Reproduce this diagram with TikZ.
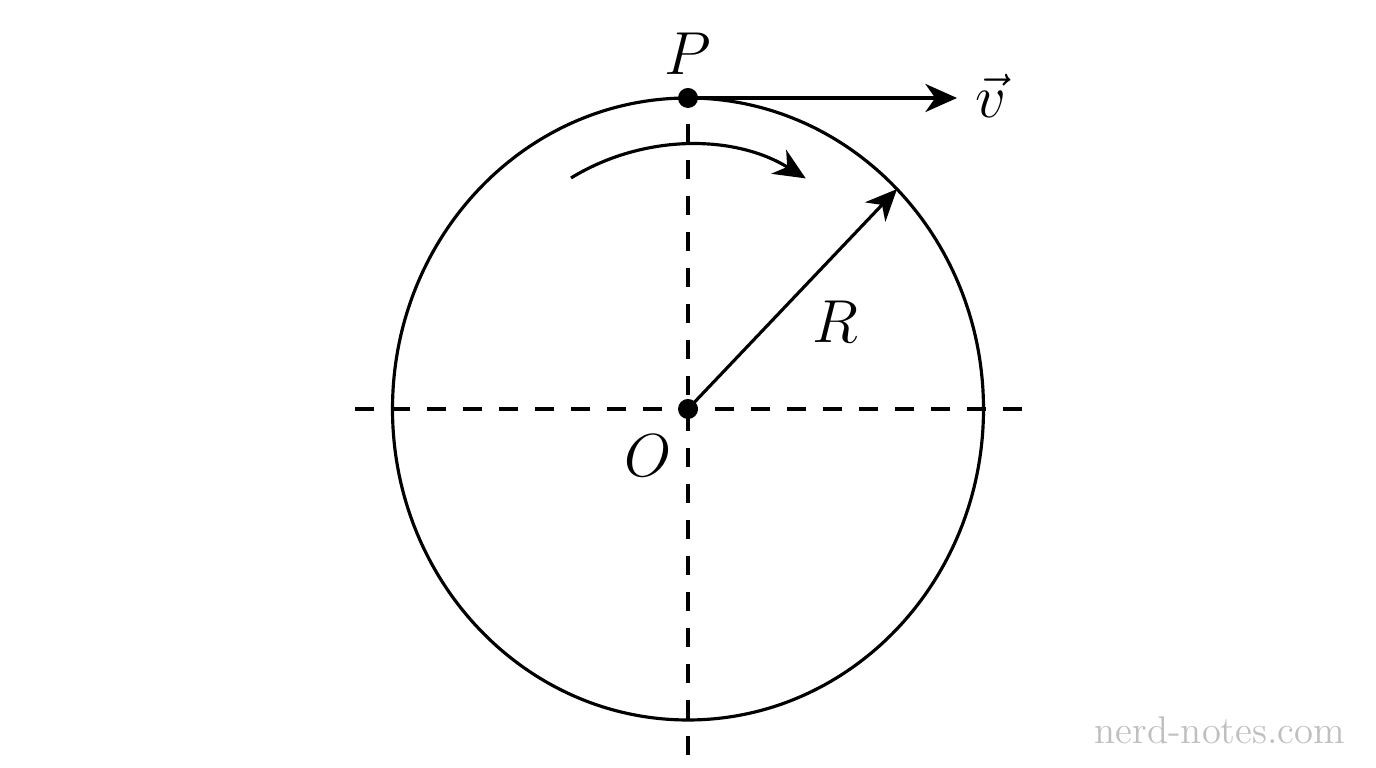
\documentclass[tikz,border=0pt]{standalone}
\usetikzlibrary{arrows.meta}
\begin{document}
\begin{tikzpicture}[
  thinline/.style={line width=0.9pt},
  dashline/.style={line width=0.95pt, dash pattern=on 5.4pt off 4.84pt},
  arrowtip/.style={-{Stealth[length=9pt,width=8pt,inset=2.8pt]}},
  dotnode/.style={circle, fill=black, inner sep=0pt, minimum size=0.2cm},
  labnode/.style={font=\fontsize{18.5pt}{20pt}\selectfont},
  wmnode/.style={font=\fontsize{11pt}{12pt}\selectfont, text=black!25}
]
\useasboundingbox (0,0) rectangle (13.76,7.68);
\coordinate (O) at (6.88,3.59);
\coordinate (P) at (6.88,6.70);
\coordinate (Hl) at (3.55,3.59);
\coordinate (Hr) at (10.22,3.59);
\coordinate (Vb) at (6.88,0.13);
\coordinate (Vt) at (9.57,6.70);
\coordinate (Re) at (8.97,5.789);
\coordinate (As) at (5.71,5.90);
\draw[thinline] (O) ellipse [x radius=2.955, y radius=3.11];
\draw[dashline] (Hl) -- (Hr);
\draw[dashline, dash phase=2.85pt] (P) -- (Vb);
\draw[thinline, arrowtip] (P) -- (Vt);
\draw[thinline, arrowtip] (O) -- (Re);
\draw[thinline, arrowtip] (As) arc[start angle=121.5, end angle=58.3, radius=2.24];
\node[dotnode] (Pd) at (P) {};
\node[dotnode] (Od) at (O) {};
\node[labnode] (Pl) at (6.88,7.14) {$P$};
\node[labnode] (Ol) at (6.48,3.12) {$O$};
\node[labnode] (Rl) at (8.35,4.46) {$R$};
\node[labnode] (vl) at (9.91,6.72) {$\vec{v}$};
\node[wmnode] (w) at (12.20,0.38) {nerd-notes.com};
\end{tikzpicture}
\end{document}
